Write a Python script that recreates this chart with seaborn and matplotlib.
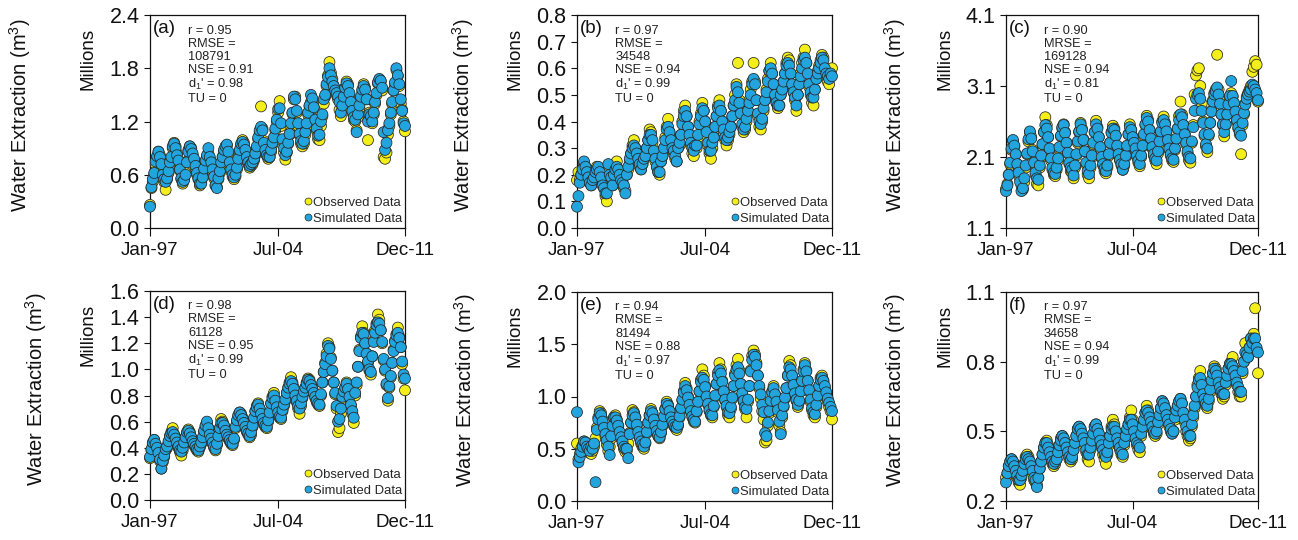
import matplotlib
matplotlib.use("Agg")
import matplotlib.pyplot as plt
from matplotlib.lines import Line2D
import numpy as np
import pandas as pd
import seaborn as sns

sns.set_theme(style="ticks")
plt.rcParams["font.family"] = ["Liberation Sans", "DejaVu Sans"]
plt.rcParams["mathtext.fontset"] = "custom"
plt.rcParams["mathtext.rm"] = "Liberation Sans"
plt.rcParams["mathtext.it"] = "Liberation Sans:italic"
plt.rcParams["mathtext.bf"] = "Liberation Sans:bold"

# Monthly series, Jan 1997 - Dec 2011 (values in millions of m3)
months = pd.date_range("1997-01-01", periods=180, freq="MS")
tick_dates = pd.to_datetime(["1997-01-01", "2004-07-01", "2011-12-01"])
tick_labels = ["Jan-97", "Jul-04", "Dec-11"]

obs_a = [0.26,0.45,0.52,0.60,0.72,0.80,0.86,0.82,0.70,0.60,0.52,0.43,
         0.55,0.62,0.72,0.78,0.90,0.96,0.92,0.84,0.75,0.65,0.55,0.50,
         0.55,0.62,0.75,0.88,0.92,0.90,0.82,0.76,0.68,0.60,0.55,0.48,
         0.52,0.58,0.66,0.75,0.80,0.84,0.78,0.72,0.64,0.56,0.48,0.46,
         0.55,0.62,0.72,0.80,0.86,0.90,0.93,0.84,0.72,0.64,0.58,0.55,
         0.58,0.66,0.76,0.86,0.93,0.99,0.96,0.88,0.78,0.72,0.68,0.70,
         0.72,0.76,0.82,0.90,1.00,1.07,1.37,1.12,0.98,0.88,0.82,0.78,
         0.80,0.86,0.94,1.00,1.10,1.20,1.30,1.43,1.15,0.98,0.85,0.77,
         0.85,0.95,1.05,1.15,1.29,1.45,1.48,1.30,1.15,1.05,0.95,0.92,
         0.95,1.05,1.15,1.28,1.37,1.42,1.44,1.35,1.20,1.10,1.00,0.99,
         1.15,1.26,1.40,1.48,1.60,1.72,1.87,1.75,1.68,1.60,1.55,1.50,
         1.45,1.33,1.26,1.35,1.45,1.58,1.65,1.62,1.50,1.40,1.30,1.22,
         1.20,1.10,1.25,1.35,1.45,1.54,1.62,1.58,1.45,0.99,1.30,1.25,
         1.18,1.28,1.40,1.50,1.63,1.67,1.65,1.55,0.80,0.78,0.85,1.05,
         1.15,1.28,1.40,1.55,1.62,1.78,1.71,1.60,1.40,1.33,1.20,1.09]
sim_a = [0.24,0.46,0.55,0.62,0.75,0.81,0.86,0.80,0.72,0.60,0.55,0.52,
         0.56,0.64,0.74,0.80,0.92,0.95,0.90,0.82,0.76,0.66,0.56,0.52,
         0.54,0.60,0.74,0.86,0.92,0.89,0.84,0.78,0.70,0.62,0.56,0.50,
         0.50,0.57,0.67,0.76,0.82,0.90,0.80,0.74,0.66,0.58,0.48,0.45,
         0.56,0.64,0.74,0.80,0.88,0.92,0.94,0.86,0.74,0.66,0.60,0.57,
         0.60,0.68,0.78,0.88,0.95,0.97,0.94,0.88,0.80,0.74,0.70,0.72,
         0.74,0.78,0.84,0.92,1.02,1.10,1.14,1.10,0.96,0.88,0.82,0.80,
         0.80,0.88,0.96,1.02,1.12,1.22,1.34,1.35,1.18,1.00,0.90,0.82,
         0.86,0.96,1.06,1.18,1.30,1.48,1.45,1.32,1.18,1.06,0.98,0.95,
         0.98,1.08,1.18,1.30,1.38,1.50,1.46,1.36,1.22,1.12,1.04,1.05,
         1.20,1.28,1.45,1.50,1.62,1.70,1.80,1.72,1.65,1.60,1.55,1.52,
         1.48,1.42,1.30,1.38,1.48,1.58,1.63,1.60,1.52,1.42,1.32,1.25,
         1.22,1.08,1.28,1.38,1.48,1.56,1.60,1.56,1.45,1.20,1.28,1.26,
         1.20,1.30,1.42,1.52,1.64,1.68,1.66,1.58,1.08,0.88,0.96,1.10,
         1.18,1.30,1.42,1.55,1.64,1.80,1.72,1.62,1.45,1.32,1.18,1.15]

obs_b = [0.18,0.21,0.18,0.20,0.22,0.24,0.23,0.21,0.19,0.17,0.16,0.18,
         0.20,0.22,0.23,0.22,0.20,0.19,0.17,0.15,0.12,0.10,0.22,0.21,
         0.19,0.16,0.21,0.23,0.25,0.22,0.20,0.18,0.16,0.15,0.14,0.20,
         0.22,0.25,0.28,0.31,0.33,0.30,0.27,0.25,0.23,0.22,0.24,0.26,
         0.27,0.30,0.33,0.37,0.36,0.32,0.28,0.25,0.23,0.21,0.20,0.25,
         0.27,0.30,0.34,0.38,0.41,0.36,0.33,0.30,0.28,0.26,0.25,0.30,
         0.31,0.35,0.40,0.44,0.46,0.42,0.38,0.35,0.31,0.28,0.27,0.30,
         0.30,0.34,0.40,0.43,0.47,0.44,0.40,0.35,0.31,0.28,0.26,0.30,
         0.34,0.38,0.42,0.46,0.48,0.44,0.40,0.36,0.33,0.31,0.33,0.35,
         0.38,0.42,0.46,0.50,0.54,0.62,0.48,0.43,0.38,0.36,0.37,0.40,
         0.44,0.48,0.52,0.55,0.62,0.55,0.48,0.42,0.38,0.37,0.40,0.44,
         0.48,0.52,0.56,0.59,0.62,0.58,0.54,0.50,0.47,0.45,0.46,0.50,
         0.52,0.55,0.58,0.62,0.64,0.63,0.58,0.54,0.51,0.48,0.44,0.50,
         0.54,0.58,0.62,0.64,0.67,0.62,0.57,0.53,0.50,0.47,0.46,0.52,
         0.56,0.59,0.61,0.63,0.65,0.64,0.60,0.58,0.55,0.54,0.58,0.60]
sim_b = [0.08,0.12,0.17,0.20,0.22,0.25,0.23,0.21,0.19,0.17,0.16,0.18,
         0.19,0.21,0.22,0.23,0.21,0.19,0.16,0.15,0.13,0.13,0.24,0.20,
         0.19,0.16,0.20,0.22,0.23,0.22,0.20,0.18,0.17,0.16,0.13,0.20,
         0.23,0.26,0.28,0.30,0.31,0.30,0.28,0.26,0.24,0.22,0.24,0.26,
         0.27,0.30,0.33,0.35,0.35,0.33,0.29,0.26,0.23,0.21,0.21,0.25,
         0.27,0.30,0.33,0.37,0.38,0.36,0.33,0.30,0.29,0.27,0.25,0.30,
         0.32,0.35,0.39,0.42,0.44,0.42,0.38,0.35,0.32,0.30,0.29,0.31,
         0.31,0.35,0.39,0.42,0.45,0.44,0.40,0.36,0.32,0.29,0.29,0.32,
         0.34,0.38,0.42,0.45,0.46,0.44,0.40,0.37,0.34,0.33,0.34,0.36,
         0.38,0.42,0.46,0.48,0.53,0.51,0.47,0.43,0.39,0.37,0.38,0.41,
         0.44,0.47,0.50,0.54,0.56,0.54,0.48,0.43,0.40,0.39,0.41,0.45,
         0.48,0.51,0.55,0.59,0.60,0.58,0.54,0.50,0.47,0.46,0.46,0.50,
         0.52,0.55,0.58,0.61,0.62,0.61,0.58,0.54,0.51,0.49,0.46,0.50,
         0.54,0.57,0.60,0.63,0.64,0.62,0.58,0.54,0.51,0.49,0.49,0.52,
         0.56,0.58,0.60,0.62,0.64,0.63,0.60,0.58,0.57,0.56,0.58,0.57]

obs_c = [1.65,1.72,1.85,2.00,2.20,2.32,2.25,2.14,2.00,1.90,1.80,1.70,
         1.64,1.75,1.95,2.14,2.32,2.45,2.38,2.20,2.00,1.85,1.72,1.70,
         1.95,2.10,2.28,2.45,2.66,2.55,2.38,2.20,2.05,1.92,1.85,1.83,
         1.92,2.05,2.22,2.39,2.50,2.56,2.45,2.30,2.15,2.00,1.90,1.88,
         1.80,1.95,2.12,2.30,2.45,2.58,2.50,2.35,2.18,2.00,1.85,1.80,
         1.95,2.10,2.28,2.45,2.61,2.52,2.38,2.22,2.08,1.98,1.90,1.87,
         1.95,2.12,2.30,2.45,2.54,2.50,2.40,2.25,2.12,2.05,1.98,1.92,
         1.98,2.10,2.25,2.42,2.56,2.48,2.38,2.30,2.20,2.10,2.02,1.97,
         2.10,2.25,2.40,2.55,2.68,2.62,2.48,2.35,2.22,2.12,2.05,2.00,
         2.15,2.30,2.45,2.60,2.67,2.58,2.45,2.32,2.20,2.12,2.05,2.03,
         2.20,2.35,2.50,2.68,2.88,2.70,2.55,2.42,2.28,2.15,2.05,2.02,
         2.30,2.55,2.98,3.25,3.32,3.35,3.10,2.85,2.60,2.40,2.25,2.17,
         2.40,2.58,2.75,2.90,3.00,3.05,3.54,3.05,2.90,2.70,2.55,2.39,
         2.55,2.70,2.85,2.95,3.00,2.95,2.85,2.72,2.60,2.50,2.42,2.14,
         2.55,2.70,2.85,2.95,3.00,3.05,3.10,3.30,3.37,3.45,3.40,2.88]
sim_c = [1.62,1.70,1.85,2.02,2.22,2.34,2.26,2.14,2.00,1.88,1.75,1.62,
         1.66,1.80,1.98,2.15,2.35,2.46,2.36,2.18,2.02,1.88,1.80,1.78,
         1.98,2.12,2.28,2.45,2.55,2.50,2.38,2.22,2.08,1.95,1.88,1.86,
         1.95,2.08,2.24,2.40,2.52,2.55,2.44,2.30,2.16,2.02,1.95,1.92,
         1.84,1.98,2.14,2.32,2.46,2.56,2.48,2.34,2.18,2.02,1.90,1.86,
         1.98,2.12,2.30,2.45,2.56,2.50,2.38,2.24,2.10,2.00,1.94,1.90,
         1.98,2.14,2.30,2.44,2.50,2.48,2.40,2.26,2.14,2.06,2.00,1.92,
         2.00,2.12,2.26,2.42,2.52,2.48,2.38,2.30,2.22,2.12,2.05,2.00,
         2.12,2.26,2.42,2.56,2.65,2.60,2.48,2.36,2.24,2.14,2.08,2.05,
         2.18,2.32,2.46,2.58,2.62,2.56,2.46,2.34,2.22,2.14,2.08,2.06,
         2.22,2.36,2.50,2.62,2.70,2.66,2.55,2.42,2.30,2.18,2.10,2.08,
         2.32,2.52,2.75,2.92,2.98,3.00,2.92,2.75,2.58,2.42,2.28,2.22,
         2.42,2.58,2.74,2.88,2.98,3.02,3.08,2.98,2.85,2.70,2.56,2.45,
         2.56,2.70,2.84,2.96,3.17,2.96,2.86,2.74,2.62,2.52,2.45,2.40,
         2.58,2.72,2.84,2.92,2.98,3.02,3.05,3.12,3.10,3.05,3.00,2.90]

obs_d = [0.32,0.38,0.43,0.46,0.42,0.40,0.35,0.30,0.24,0.29,0.33,0.38,
         0.40,0.44,0.48,0.52,0.55,0.50,0.48,0.45,0.40,0.37,0.34,0.38,
         0.43,0.47,0.51,0.54,0.52,0.48,0.45,0.42,0.40,0.38,0.37,0.40,
         0.43,0.47,0.52,0.56,0.59,0.55,0.50,0.47,0.43,0.40,0.38,0.42,
         0.48,0.55,0.62,0.60,0.57,0.53,0.50,0.47,0.45,0.43,0.42,0.46,
         0.55,0.60,0.64,0.67,0.66,0.63,0.59,0.55,0.52,0.50,0.48,0.50,
         0.56,0.62,0.68,0.72,0.74,0.70,0.66,0.62,0.58,0.56,0.55,0.60,
         0.66,0.74,0.79,0.82,0.76,0.70,0.66,0.63,0.62,0.68,0.72,0.76,
         0.82,0.86,0.90,0.94,0.90,0.86,0.80,0.75,0.70,0.66,0.72,0.78,
         0.82,0.86,0.90,0.93,0.92,0.88,0.85,0.82,0.78,0.75,0.73,0.72,
         0.80,0.90,0.98,1.05,1.12,1.20,1.17,1.09,0.99,0.90,0.81,0.70,
         0.52,0.55,0.66,0.78,0.82,0.86,0.90,0.85,0.78,0.72,0.66,0.59,
         0.80,0.88,1.02,1.15,1.25,1.33,1.28,1.20,1.12,1.05,0.99,0.96,
         1.10,1.22,1.30,1.35,1.42,1.38,1.30,1.20,1.07,0.99,0.88,0.76,
         0.86,0.94,1.05,1.15,1.22,1.27,1.32,1.25,1.17,1.04,0.93,0.84]
sim_d = [0.33,0.39,0.44,0.46,0.43,0.40,0.36,0.31,0.24,0.30,0.34,0.39,
         0.41,0.45,0.49,0.51,0.52,0.50,0.47,0.44,0.41,0.38,0.37,0.40,
         0.44,0.48,0.52,0.53,0.51,0.48,0.45,0.43,0.41,0.39,0.38,0.41,
         0.44,0.48,0.53,0.57,0.60,0.55,0.50,0.47,0.44,0.41,0.39,0.43,
         0.49,0.55,0.59,0.59,0.57,0.53,0.50,0.48,0.46,0.44,0.43,0.47,
         0.56,0.61,0.65,0.67,0.65,0.62,0.59,0.56,0.53,0.51,0.49,0.52,
         0.57,0.63,0.68,0.71,0.73,0.70,0.66,0.62,0.59,0.57,0.56,0.61,
         0.67,0.74,0.78,0.80,0.76,0.71,0.67,0.64,0.63,0.69,0.73,0.77,
         0.82,0.86,0.89,0.91,0.89,0.85,0.80,0.76,0.72,0.70,0.74,0.79,
         0.83,0.86,0.89,0.92,0.91,0.88,0.85,0.82,0.79,0.76,0.74,0.73,
         0.81,0.90,0.98,1.04,1.10,1.18,1.16,1.08,0.99,0.90,0.82,0.72,
         0.60,0.62,0.70,0.79,0.83,0.86,0.89,0.85,0.79,0.73,0.68,0.63,
         0.82,0.90,1.02,1.14,1.24,1.28,1.27,1.20,1.12,1.06,1.00,0.98,
         1.10,1.21,1.28,1.34,1.36,1.35,1.30,1.21,1.08,1.00,0.89,0.78,
         0.87,0.95,1.05,1.14,1.21,1.26,1.28,1.24,1.17,1.06,0.96,0.93]

obs_e = [0.55,0.40,0.45,0.50,0.53,0.57,0.55,0.52,0.48,0.46,0.45,0.48,
         0.52,0.60,0.70,0.80,0.86,0.84,0.78,0.70,0.62,0.54,0.48,0.52,
         0.60,0.70,0.80,0.82,0.78,0.72,0.65,0.60,0.55,0.50,0.47,0.48,
         0.55,0.65,0.75,0.87,0.85,0.80,0.72,0.65,0.60,0.55,0.52,0.50,
         0.55,0.65,0.75,0.82,0.88,0.84,0.78,0.72,0.66,0.62,0.60,0.65,
         0.72,0.80,0.88,0.95,0.92,0.86,0.80,0.75,0.72,0.70,0.68,0.72,
         0.80,0.88,0.96,1.05,1.13,1.08,1.00,0.92,0.85,0.80,0.76,0.75,
         0.85,0.95,1.05,1.16,1.26,1.20,1.10,1.00,0.92,0.86,0.82,0.80,
         0.90,1.00,1.12,1.23,1.32,1.26,1.15,1.05,0.96,0.90,0.82,0.80,
         0.88,0.98,1.10,1.22,1.30,1.36,1.25,1.12,1.02,0.95,0.88,0.80,
         0.95,1.10,1.25,1.39,1.44,1.40,1.32,1.20,1.08,0.98,0.86,0.78,
         0.56,0.58,0.72,0.84,0.95,1.05,1.10,1.02,0.94,0.85,0.72,0.66,
         0.80,0.90,0.98,1.08,1.20,1.34,1.30,1.20,1.10,1.02,0.96,0.90,
         0.95,1.05,1.15,1.26,1.32,1.25,1.15,1.05,0.95,0.87,0.82,0.80,
         0.90,1.00,1.10,1.18,1.20,1.15,1.08,1.02,0.95,0.90,0.86,0.78]
sim_e = [0.85,0.37,0.42,0.47,0.52,0.57,0.56,0.52,0.50,0.48,0.52,0.50,
         0.55,0.18,0.68,0.78,0.84,0.82,0.76,0.70,0.64,0.58,0.52,0.44,
         0.62,0.72,0.80,0.80,0.77,0.72,0.66,0.61,0.57,0.52,0.50,0.50,
         0.41,0.64,0.75,0.82,0.84,0.80,0.73,0.66,0.61,0.57,0.54,0.52,
         0.56,0.66,0.75,0.82,0.86,0.84,0.78,0.72,0.67,0.63,0.61,0.66,
         0.73,0.81,0.88,0.93,0.91,0.86,0.80,0.76,0.73,0.71,0.70,0.73,
         0.81,0.89,0.97,1.04,1.10,1.06,0.99,0.92,0.86,0.81,0.78,0.76,
         0.86,0.95,1.05,1.14,1.18,1.16,1.09,1.00,0.93,0.87,0.83,0.82,
         0.91,1.01,1.12,1.20,1.25,1.22,1.14,1.05,0.97,0.91,0.85,0.84,
         0.90,0.99,1.10,1.20,1.26,1.28,1.22,1.12,1.03,0.96,0.90,0.88,
         0.97,1.10,1.24,1.35,1.40,1.38,1.30,1.20,1.10,1.02,0.92,0.85,
         0.65,0.62,0.75,0.86,0.96,1.04,1.08,1.02,0.95,0.87,0.76,0.64,
         0.82,0.91,0.99,1.08,1.20,1.28,1.26,1.20,1.11,1.03,0.97,0.92,
         0.96,1.05,1.15,1.24,1.30,1.24,1.15,1.06,0.97,0.89,0.85,0.83,
         0.92,1.01,1.10,1.16,1.18,1.15,1.10,1.04,0.98,0.94,0.90,0.86]

obs_f = [0.30,0.32,0.35,0.37,0.38,0.37,0.35,0.33,0.30,0.28,0.27,0.30,
         0.33,0.36,0.39,0.40,0.39,0.37,0.35,0.32,0.29,0.28,0.27,0.30,
         0.34,0.37,0.40,0.43,0.45,0.46,0.44,0.41,0.38,0.36,0.35,0.36,
         0.38,0.41,0.44,0.47,0.48,0.47,0.45,0.42,0.40,0.38,0.37,0.38,
         0.42,0.45,0.48,0.51,0.52,0.51,0.49,0.46,0.44,0.41,0.38,0.37,
         0.42,0.45,0.48,0.52,0.53,0.51,0.49,0.46,0.43,0.40,0.38,0.36,
         0.40,0.44,0.48,0.52,0.55,0.53,0.50,0.47,0.44,0.42,0.40,0.39,
         0.44,0.47,0.50,0.53,0.56,0.59,0.55,0.51,0.47,0.44,0.42,0.41,
         0.48,0.51,0.54,0.58,0.61,0.59,0.56,0.53,0.51,0.49,0.48,0.49,
         0.53,0.56,0.60,0.63,0.62,0.60,0.57,0.54,0.52,0.50,0.49,0.50,
         0.55,0.58,0.61,0.63,0.64,0.62,0.58,0.54,0.50,0.48,0.46,0.47,
         0.52,0.56,0.60,0.65,0.70,0.73,0.76,0.71,0.66,0.63,0.61,0.60,
         0.63,0.67,0.71,0.75,0.78,0.77,0.74,0.71,0.68,0.66,0.64,0.65,
         0.70,0.74,0.77,0.79,0.80,0.82,0.77,0.74,0.70,0.67,0.65,0.65,
         0.75,0.80,0.88,0.84,0.82,0.86,0.90,0.88,0.92,1.03,0.85,0.75]
sim_f = [0.28,0.32,0.35,0.37,0.38,0.37,0.35,0.33,0.31,0.29,0.29,0.31,
         0.33,0.36,0.38,0.39,0.38,0.37,0.35,0.33,0.30,0.29,0.26,0.30,
         0.34,0.37,0.40,0.43,0.45,0.45,0.43,0.41,0.39,0.37,0.36,0.37,
         0.38,0.41,0.44,0.46,0.48,0.47,0.45,0.43,0.41,0.39,0.38,0.39,
         0.42,0.45,0.48,0.51,0.52,0.51,0.49,0.47,0.45,0.42,0.40,0.40,
         0.43,0.46,0.49,0.52,0.53,0.51,0.49,0.46,0.44,0.42,0.40,0.39,
         0.41,0.45,0.48,0.51,0.52,0.52,0.50,0.47,0.45,0.43,0.41,0.40,
         0.45,0.48,0.51,0.53,0.55,0.55,0.53,0.50,0.47,0.45,0.44,0.43,
         0.49,0.52,0.55,0.58,0.59,0.58,0.56,0.54,0.52,0.50,0.49,0.50,
         0.54,0.57,0.60,0.63,0.62,0.60,0.57,0.55,0.53,0.51,0.49,0.50,
         0.56,0.59,0.61,0.63,0.64,0.62,0.58,0.55,0.52,0.50,0.48,0.48,
         0.53,0.57,0.61,0.65,0.69,0.72,0.73,0.70,0.66,0.64,0.62,0.61,
         0.64,0.68,0.72,0.75,0.77,0.76,0.74,0.71,0.69,0.67,0.66,0.66,
         0.71,0.74,0.77,0.79,0.79,0.78,0.76,0.74,0.71,0.69,0.67,0.67,
         0.76,0.80,0.84,0.83,0.82,0.86,0.90,0.88,0.90,0.90,0.86,0.84]

observed = [obs_a, obs_b, obs_c, obs_d, obs_e, obs_f]
simulated = [sim_a, sim_b, sim_c, sim_d, sim_e, sim_f]
panel_ids = ["(a)", "(b)", "(c)", "(d)", "(e)", "(f)"]
y_limits = [(0.0, 2.4), (0.0, 0.8), (1.1, 4.1), (0.0, 1.6), (0.0, 2.0), (0.2, 1.1)]
y_ticks = [[0.0, 0.6, 1.2, 1.8, 2.4],
           [0.0, 0.1, 0.2, 0.3, 0.4, 0.5, 0.6, 0.7, 0.8],
           [1.1, 2.1, 3.1, 4.1],
           [0.0, 0.2, 0.4, 0.6, 0.8, 1.0, 1.2, 1.4, 1.6],
           [0.0, 0.5, 1.0, 1.5, 2.0],
           [0.2, 0.5, 0.8, 1.1]]
stats_text = [
    "r = 0.95\nRMSE =\n108791\nNSE = 0.91\nd$_1$' = 0.98\nTU = 0",
    "r = 0.97\nRMSE =\n34548\nNSE = 0.94\nd$_1$' = 0.99\nTU = 0",
    "r = 0.90\nMRSE =\n169128\nNSE = 0.94\nd$_1$' = 0.81\nTU = 0",
    "r = 0.98\nRMSE =\n61128\nNSE = 0.95\nd$_1$' = 0.99\nTU = 0",
    "r = 0.94\nRMSE =\n81494\nNSE = 0.88\nd$_1$' = 0.97\nTU = 0",
    "r = 0.97\nRMSE =\n34658\nNSE = 0.94\nd$_1$' = 0.99\nTU = 0",
]
series_names = ["Observed Data", "Simulated Data"]

yellow = "#F4EE1A"
blue = "#22A5DE"
edge = "#262626"
palette = {series_names[0]: yellow, series_names[1]: blue}

W, H = 1298, 540
fig = plt.figure(figsize=(W / 100, H / 100), dpi=100)
fig.patch.set_facecolor("white")

# axes boxes in pixels: left, top, right, bottom
boxes = [(150, 15, 405, 228), (577, 15, 832, 228), (1006, 15, 1258, 228),
         (150, 291, 405, 500), (577, 292, 832, 501), (1006, 292, 1258, 501)]
outer_label_x = [-0.51, -0.447, -0.44, -0.447, -0.44, -0.44]

for i, (l, t, r, b) in enumerate(boxes):
    ax = fig.add_axes([l / W, 1 - b / H, (r - l) / W, (b - t) / H])
    df = pd.concat([
        pd.DataFrame({"date": months, "value": observed[i], "series": series_names[0]}),
        pd.DataFrame({"date": months, "value": simulated[i], "series": series_names[1]}),
    ], ignore_index=True)
    sns.scatterplot(data=df, x="date", y="value", hue="series", palette=palette,
                    s=62, edgecolor=edge, linewidth=0.55, legend=False, ax=ax,
                    clip_on=False, zorder=3)
    ax.set_xlim(tick_dates[0], tick_dates[-1])
    ax.set_ylim(*y_limits[i])
    ax.set_xticks(tick_dates)
    ax.set_xticklabels(tick_labels)
    ax.set_yticks(y_ticks[i])
    ax.set_yticklabels([f"{v:.1f}" for v in y_ticks[i]])
    ax.set_xlabel("")
    ax.set_ylabel("")
    ax.tick_params(axis="y", direction="out", length=4.5, width=0.8, pad=3,
                   labelsize=15.5, colors="#111111")
    ax.tick_params(axis="x", direction="out", length=6, width=0.8, pad=4,
                   labelsize=13.5, colors="#111111")
    for sp in ax.spines.values():
        sp.set_visible(True)
        sp.set_linewidth(0.9)
        sp.set_color("#111111")

    ax.text(0.01, 0.975, panel_ids[i], transform=ax.transAxes, ha="left", va="top",
            fontsize=13.5, color="#111111")
    ax.text(0.15, 0.955, stats_text[i], transform=ax.transAxes, ha="left", va="top",
            fontsize=9.2, linespacing=1.12, color="#222222")

    ax.text(-0.243, 0.94, "Millions", transform=ax.transAxes, rotation=90,
            ha="center", va="top", fontsize=13.5, color="#111111")
    ax.text(outer_label_x[i], 0.53, r"Water Extraction (m$\mathregular{^3}$)",
            transform=ax.transAxes, rotation=90, ha="center", va="center",
            fontsize=14.5, color="#111111")

    handles = [Line2D([], [], marker="o", linestyle="", markersize=5,
                      markerfacecolor=palette[n], markeredgecolor=edge,
                      markeredgewidth=0.5) for n in series_names]
    ax.legend(handles, series_names, loc="lower right", bbox_to_anchor=(1.015, -0.015),
              frameon=False, fontsize=9.4, handlelength=0.5, handletextpad=0.15,
              labelspacing=0.3, borderpad=0.3, borderaxespad=0.2)

fig.savefig("out.png", dpi=100, facecolor="white")
